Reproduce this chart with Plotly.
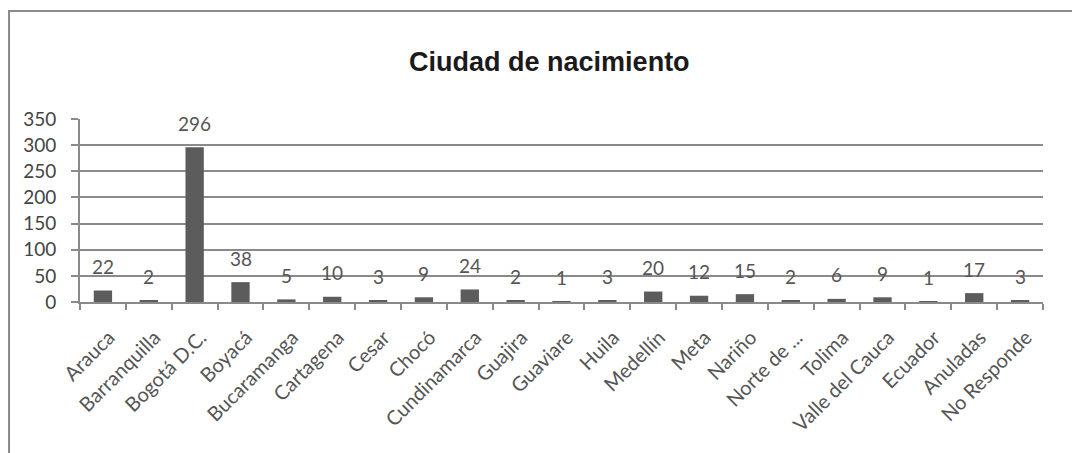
import plotly.graph_objects as go

categories = ["Arauca", "Barranquilla", "Bogotá D.C.", "Boyacá", "Bucaramanga", "Cartagena",
              "Cesar", "Chocó", "Cundinamarca", "Guajira", "Guaviare", "Huila", "Medellín",
              "Meta", "Nariño", "Norte de ...", "Tolima", "Valle del Cauca", "Ecuador",
              "Anuladas", "No Responde"]
values = [22, 2, 296, 38, 5, 10, 3, 9, 24, 2, 1, 3, 20, 12, 15, 2, 6, 9, 1, 17, 3]
y_ticks = [0, 50, 100, 150, 200, 250, 300, 350]

font_fam = "Lato, 'Open Sans', sans-serif"

fig = go.Figure()
fig.add_trace(go.Bar(x=categories, y=values, marker=dict(color="#5c5c5c", line=dict(width=0)),
                     hoverinfo="x+y"))

for c, v in zip(categories, values):
    fig.add_annotation(x=c, y=v, text=str(v), showarrow=False, yanchor="middle",
                       yshift=24, font=dict(family=font_fam, size=19, color="#555555"))

fig.update_layout(
    width=1072, height=445,
    margin=dict(l=72, r=37, t=111, b=151, autoexpand=False),
    paper_bgcolor="white", plot_bgcolor="white",
    bargap=0.6,
    showlegend=False,
    title=dict(text="<b>Ciudad de nacimiento</b>", x=0.505, xanchor="center", y=0.879,
               yanchor="middle",
               font=dict(family="'Liberation Sans', Arial, sans-serif", size=27, color="#1a1a1a")),
    xaxis=dict(tickangle=-45, tickfont=dict(family=font_fam, size=20, color="#555555"),
               showline=True, linecolor="#8a8a8a", linewidth=2,
               ticks="outside", ticklen=6, tickcolor="#8a8a8a", tickwidth=1.5,
               ticklabelstandoff=14, ticklabelshift=6,
               tickson="boundaries", showgrid=False, automargin=False),
    yaxis=dict(range=[0, 350], tickvals=y_ticks, showgrid=True, gridcolor="#8a8a8a",
               gridwidth=1.5, showline=True, linecolor="#8a8a8a", linewidth=2,
               ticks="outside", ticklen=7, tickcolor="#8a8a8a", tickwidth=1.5,
               ticklabelstandoff=11,
               tickfont=dict(family=font_fam, size=19, color="#444444"), zeroline=False,
               automargin=False),
    shapes=[dict(type="rect", xref="paper", yref="paper", x0=-0.0737, x1=1.1, y0=-1.2, y1=1.59,
                 line=dict(color="#8a8a8a", width=2), layer="below")],
)

fig.write_html("out.html")
